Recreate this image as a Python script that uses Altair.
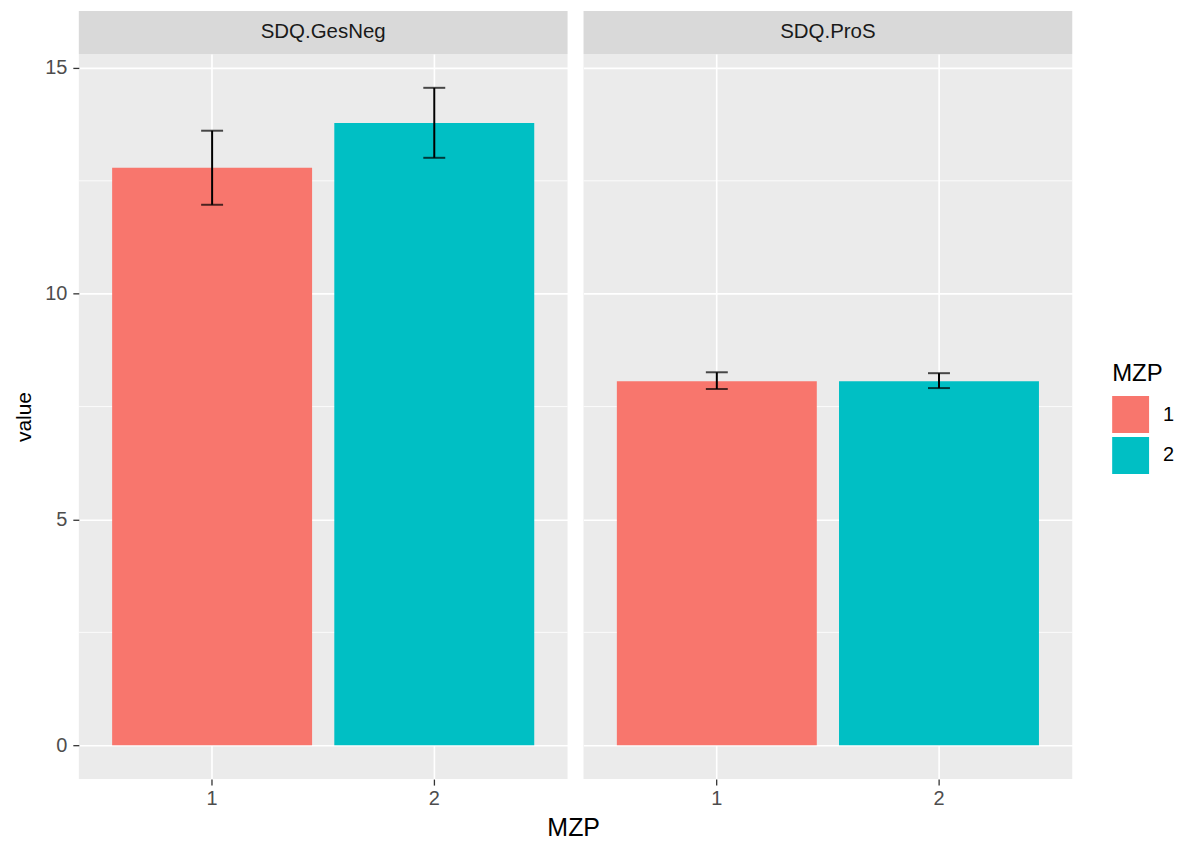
import altair as alt
import pandas as pd

# ---- data ----
panel_col = ["SDQ.GesNeg", "SDQ.GesNeg", "SDQ.ProS", "SDQ.ProS"]
mzp_col = ["1", "2", "1", "2"]
value_col = [12.79, 13.78, 8.06, 8.06]
lower_col = [11.97, 13.01, 7.89, 7.91]
upper_col = [13.61, 14.56, 8.26, 8.24]

panels = ["SDQ.GesNeg", "SDQ.ProS"]
major_breaks = [0, 5, 10, 15]
minor_breaks = [2.5, 7.5, 12.5]
mzp_levels = ["1", "2"]
mzp_colors = ["#F8766D", "#00BFC4"]

df = pd.DataFrame({
    "panel": panel_col,
    "MZP": mzp_col,
    "value": value_col,
    "lower": lower_col,
    "upper": upper_col,
})
minor_df = pd.DataFrame({"v": minor_breaks})

W = 490
H = 727
FONT = "Liberation Sans"
TICK_FS = 20

y_scale = alt.Scale(domain=[-0.75, 15.31], nice=False, zero=False)
x_scale = alt.Scale(paddingInner=0.1, paddingOuter=0.15)


def make_panel(name, show_y):
    base = alt.Chart(df).transform_filter(alt.datum.panel == name)
    x_enc = alt.X(
        "MZP:N", scale=x_scale,
        axis=alt.Axis(title=None, labelAngle=0, bandPosition=0.5, grid=True,
                      gridColor="white", gridWidth=1.6, domain=False,
                      tickColor="#333333", tickSize=6, tickWidth=1.3,
                      labelColor="#4D4D4D", labelFontSize=TICK_FS, labelPadding=3,
                      labelFont=FONT),
    )
    if show_y:
        y_axis = alt.Axis(values=major_breaks, title="value", grid=True,
                          gridColor="white", gridWidth=1.6, domain=False,
                          tickColor="#333333", tickSize=6, tickWidth=1.3,
                          labelColor="#4D4D4D", labelFontSize=TICK_FS, labelPadding=6,
                          labelFont=FONT, titleFont=FONT, titleFontSize=21,
                          titleFontWeight="normal", titleColor="black",
                          titlePadding=10)
    else:
        y_axis = alt.Axis(values=major_breaks, title=None, grid=True,
                          gridColor="white", gridWidth=1.6, domain=False,
                          labels=False, ticks=False)

    minor = alt.Chart(minor_df).mark_rule(color="white", strokeWidth=0.8).encode(
        y=alt.Y("v:Q", scale=y_scale, axis=y_axis)
    )
    bars = base.mark_bar().encode(
        x=x_enc,
        y=alt.Y("value:Q", scale=y_scale, axis=y_axis),
        color=alt.Color(
            "MZP:N",
            scale=alt.Scale(domain=mzp_levels, range=mzp_colors),
            legend=alt.Legend(
                title="MZP", titleFontSize=24, titleFontWeight="normal",
                titleColor="black", titleFont=FONT, labelFont=FONT,
                labelFontSize=20, labelColor="black", symbolType="square",
                symbolSize=1369, symbolStrokeWidth=0, symbolOpacity=1,
                rowPadding=4, titlePadding=10, labelOffset=14,
                orient="none", legendX=1036, legendY=309,
            ),
        ),
    )
    err = base.mark_rule(color="black", strokeWidth=2).encode(
        x=alt.X("MZP:N", scale=x_scale), y="lower:Q", y2="upper:Q"
    )
    cap_hi = base.mark_tick(color="black", thickness=2, size=22).encode(
        x=alt.X("MZP:N", scale=x_scale), y="upper:Q"
    )
    cap_lo = base.mark_tick(color="black", thickness=2, size=22).encode(
        x=alt.X("MZP:N", scale=x_scale), y="lower:Q"
    )
    strip_df = pd.DataFrame({"panel": [name]})
    strip = alt.Chart(strip_df).mark_rect(color="#D9D9D9").encode(
        x=alt.value(0), x2=alt.value(W), y=alt.value(-43), y2=alt.value(0)
    )
    strip_text = alt.Chart(strip_df).mark_text(
        fontSize=20.5, color="#1A1A1A", font=FONT, baseline="middle"
    ).encode(x=alt.value(W / 2), y=alt.value(-21.5), text="panel:N")

    return alt.layer(minor, bars, err, cap_hi, cap_lo, strip, strip_text).properties(
        width=W, height=H
    )


chart = alt.hconcat(
    make_panel(panels[0], True), make_panel(panels[1], False), spacing=14
).properties(
    title=alt.TitleParams(text="MZP", orient="bottom", anchor="start",
                          fontSize=25, fontWeight="normal", font=FONT,
                          color="black", offset=8, dx=535),
    padding={"left": 5, "top": 2, "right": 5, "bottom": 5},
).configure(background="white").configure_view(fill="#EBEBEB", strokeWidth=0)

chart.save("out.html", embed_options={"renderer": "svg", "actions": False})
